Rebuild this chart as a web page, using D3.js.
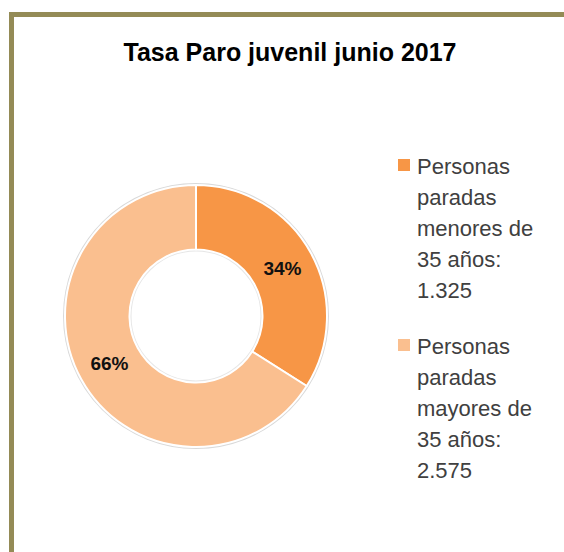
<!DOCTYPE html>
<html>
<head>
<meta charset="utf-8">
<script src="https://cdn.jsdelivr.net/npm/d3@7"></script>
<style>
  html, body { margin: 0; padding: 0; background: #ffffff; }
  svg { display: block; }
</style>
</head>
<body>
<svg id="chart" width="564" height="552"></svg>
<script>
const title = "Tasa Paro juvenil junio 2017";
const categories = ["Personas paradas menores de 35 años", "Personas paradas mayores de 35 años"];
const values = [1325, 2575];
const colors = ["#f79646", "#fabf8f"];

const svg = d3.select("#chart");
const W = 564, H = 552;

// frame
svg.append("rect").attr("x", 11.5).attr("y", 14.5).attr("width", W + 20).attr("height", H + 20)
  .attr("fill", "#ffffff").attr("stroke", "#948b56").attr("stroke-width", 5);

// title
svg.append("text").attr("x", 290).attr("y", 61).attr("text-anchor", "middle")
  .attr("font-family", "Liberation Sans, Arial, sans-serif").attr("font-weight", "bold")
  .attr("font-size", 25).attr("fill", "#000").text(title);

// donut
const cx = 196, cy = 316, R = 131, r = 66.5;
const total = d3.sum(values);
const pie = d3.pie().sort(null).value(d => d)(values);
const arc = d3.arc().innerRadius(r).outerRadius(R);
const g = svg.append("g").attr("transform", `translate(${cx},${cy})`);

// soft outer shadow
g.append("circle").attr("r", R + 1).attr("fill", "none").attr("stroke", "#d9d9d9").attr("stroke-width", 2);
g.append("circle").attr("r", r - 1).attr("fill", "none").attr("stroke", "#e6e6e6").attr("stroke-width", 2);

g.selectAll("path.slice").data(pie).join("path").attr("class", "slice")
  .attr("d", arc).attr("fill", (d, i) => colors[i])
  .attr("stroke", "#ffffff").attr("stroke-width", 2).attr("stroke-linejoin", "round");

const pct = d3.format(".0%");
g.selectAll("text.lbl").data(pie).join("text").attr("class", "lbl")
  .attr("transform", d => `translate(${arc.centroid(d)})`)
  .attr("text-anchor", "middle").attr("dy", "0.36em")
  .attr("font-family", "Liberation Sans, Arial, sans-serif").attr("font-weight", "bold")
  .attr("font-size", 19).attr("fill", "#111")
  .text(d => pct(d.value / total));

// legend
const fmtNum = v => d3.format(",")(v).replace(/,/g, ".");
const lx = 417, ly0 = 174, lh = 31, groupGap = 25, maxW = 132;
let y = ly0;
categories.forEach((c, i) => {
  svg.append("rect").attr("x", 398).attr("y", y - 15).attr("width", 12).attr("height", 12).attr("fill", colors[i]);
  const full = c + ": " + fmtNum(values[i]);
  const words = full.split(" ");
  const t = svg.append("text").attr("font-family", "Liberation Sans, Arial, sans-serif")
    .attr("font-size", 22).attr("fill", "#404040");
  let lines = [], cur = "";
  const probe = t.append("tspan");
  words.forEach(w => {
    const test = cur ? cur + " " + w : w;
    probe.text(test);
    if (probe.node().getComputedTextLength() > maxW && cur) { lines.push(cur); cur = w; }
    else cur = test;
  });
  if (cur) lines.push(cur);
  probe.remove();
  lines.forEach((ln, k) => {
    t.append("tspan").attr("x", lx).attr("y", y + k * lh).text(ln);
  });
  y += lines.length * lh + groupGap;
});
</script>
</body>
</html>
